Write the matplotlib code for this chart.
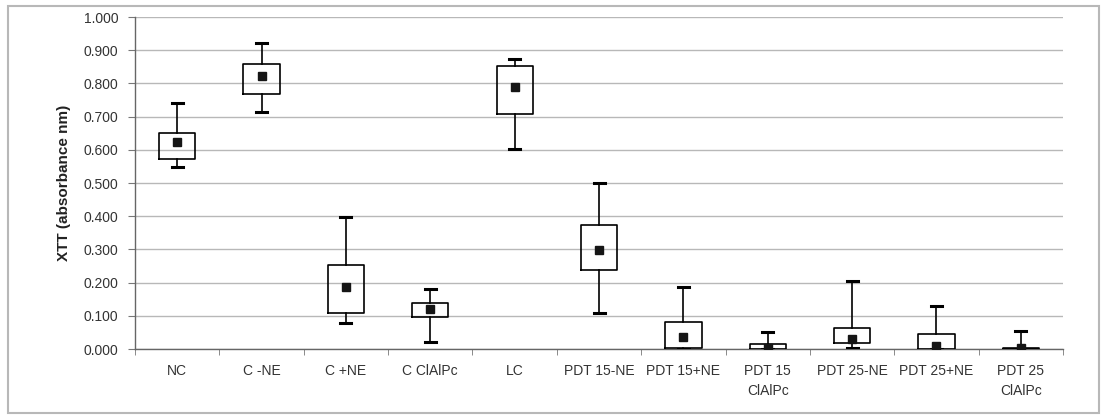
import matplotlib
matplotlib.use("Agg")
import matplotlib.pyplot as plt
from matplotlib.patches import Rectangle
import numpy as np

plt.rcParams['font.family'] = ['Liberation Sans', 'DejaVu Sans']

# XTT box data per group
groups = ['NC', 'C -NE', 'C +NE', 'C ClAlPc', 'LC', 'PDT 15-NE', 'PDT 15+NE',
          'PDT 15\nClAlPc', 'PDT 25-NE', 'PDT 25+NE', 'PDT 25\nClAlPc']
whisk_low = [0.549, 0.713, 0.077, 0.020, 0.604, 0.109, 0.000, 0.000, 0.004, 0.000, 0.000]
q1 = [0.574, 0.767, 0.109, 0.095, 0.707, 0.238, 0.004, 0.000, 0.019, 0.000, 0.000]
q3 = [0.650, 0.858, 0.253, 0.138, 0.852, 0.373, 0.080, 0.015, 0.064, 0.045, 0.002]
whisk_high = [0.742, 0.921, 0.398, 0.181, 0.873, 0.501, 0.186, 0.050, 0.205, 0.130, 0.055]
means = [0.624, 0.823, 0.186, 0.122, 0.788, 0.298, 0.035, 0.003, 0.030, 0.009, 0.003]

stats = []
for i in range(len(groups)):
    stats.append({'whislo': whisk_low[i], 'q1': q1[i], 'med': means[i],
                  'q3': q3[i], 'whishi': whisk_high[i], 'mean': means[i],
                  'fliers': []})

fig = plt.figure(figsize=(11.05, 4.17), dpi=100)
ax = fig.add_axes([0.1222, 0.163, 0.8398, 0.796])

pos = np.arange(len(groups))
ax.bxp(stats, positions=pos, widths=0.43, showmeans=True, patch_artist=False,
       boxprops=dict(color='black', linewidth=1.2),
       whiskerprops=dict(color='black', linewidth=1.2),
       capprops=dict(color='black', linewidth=2.2),
       medianprops=dict(visible=False),
       meanprops=dict(marker='s', markerfacecolor='#151515',
                      markeredgecolor='#151515', markersize=5.5),
       capwidths=0.13, zorder=3)

ax.set_xlim(-0.5, len(groups) - 0.5)
ax.set_ylim(0, 1.0)
ax.set_yticks(np.arange(0, 1.01, 0.1))
ax.set_yticklabels(['%.3f' % v for v in np.arange(0, 1.01, 0.1)])
ax.yaxis.grid(True, color='#b8b8b8', linewidth=1.0)
ax.set_axisbelow(True)

ax.set_xticks(pos)
ax.set_xticklabels(groups, linespacing=1.5)
ax.set_xticks(np.arange(-0.5, len(groups), 1.0), minor=True)
ax.tick_params(axis='x', which='major', length=0, pad=11, labelsize=10,
               labelcolor='#333333')
ax.tick_params(axis='x', which='minor', length=4, color='#777777', direction='out')
ax.tick_params(axis='y', length=5, color='#777777', pad=7, labelsize=10,
               labelcolor='#333333')

for side in ['top', 'right']:
    ax.spines[side].set_visible(False)
for side in ['left', 'bottom']:
    ax.spines[side].set_color('#666666')
    ax.spines[side].set_linewidth(1.0)

ax.set_ylabel('XTT (absorbance nm)', fontsize=11, fontweight='bold',
              color='#222222', labelpad=9)

# outer chart frame
fig.patches.append(Rectangle((0.007, 0.01), 0.988, 0.976, transform=fig.transFigure,
                             fill=False, edgecolor='#b8b8b8', linewidth=1.5))

fig.savefig('out.png', dpi=100)
